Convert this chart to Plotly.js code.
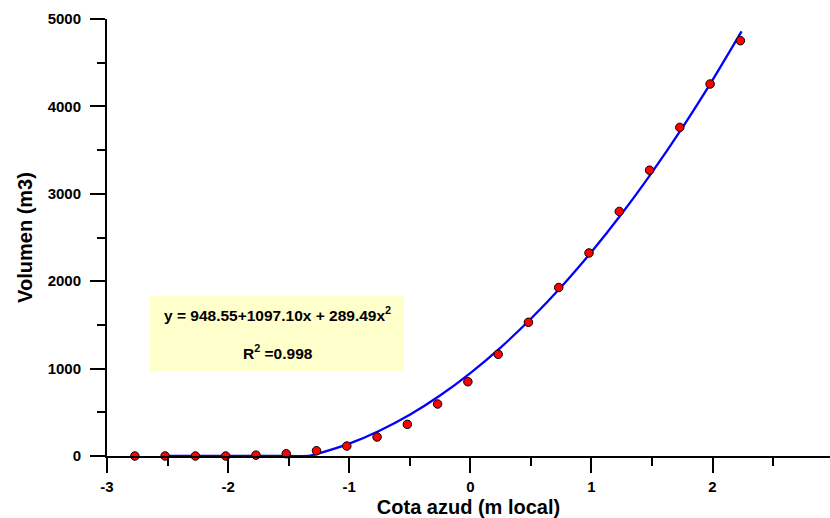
<!DOCTYPE html>
<html>
<head>
<meta charset="utf-8">
<script src="https://cdn.plot.ly/plotly-3.0.1.min.js"></script>
<style>html,body{margin:0;padding:0;background:#fff;}#chart{width:830px;height:518px;}</style>
</head>
<body>
<div id="chart"></div>
<script>
// Measured points (Cota azud, Volumen)
const cota = [-2.77, -2.52, -2.27, -2.02, -1.77, -1.52, -1.27, -1.02, -0.77, -0.52, -0.27, -0.02, 0.23, 0.48, 0.73, 0.98, 1.23, 1.48, 1.73, 1.98, 2.23];
const volumen = [0, 0, 0, 0, 10, 26, 60, 114, 217, 362, 595, 850, 1163, 1530, 1928, 2323, 2798, 3270, 3760, 4256, 4752];

// Fitted curve (y = 948.55+1097.10x+289.49x^2, floored at 0)
const curveX = [-2.5, -2.0, -1.5, -1.334, -1.25, -1.0, -0.75, -0.5, -0.25, 0, 0.25, 0.5, 0.75, 1.0, 1.25, 1.5, 1.75, 2.0, 2.24];
const curveY = [0, 0, 0, 0, 30, 141, 289, 472, 692, 949, 1241, 1570, 1934, 2335, 2772, 3246, 3755, 4301, 4858];

const xTickVals = [-3, -2, -1, 0, 1, 2];
const xTickText = ['-3', '-2', '-1', '0', '1', '2'];
const yTickVals = [0, 1000, 2000, 3000, 4000, 5000];
const yTickText = ['0', '1000', '2000', '3000', '4000', '5000'];

const eqText = '<b>y = 948.55+1097.10x + 289.49x<sup>2</sup></b>';
const r2Text = '<b>R<sup>2</sup> =0.998</b>';

const FONT = 'Arial, "Liberation Sans", sans-serif';

const traces = [
  {
    x: curveX, y: curveY, type: 'scatter', mode: 'lines',
    line: {color: '#0000FF', width: 2.3, shape: 'spline', smoothing: 0.6},
    cliponaxis: false, hoverinfo: 'skip'
  },
  {
    x: cota, y: volumen, type: 'scatter', mode: 'markers',
    marker: {color: '#FF0000', size: 8.5, line: {color: '#000000', width: 1}},
    cliponaxis: false
  }
];

const layout = {
  width: 830, height: 518,
  margin: {l: 107, r: 0, t: 19, b: 62},
  paper_bgcolor: '#ffffff', plot_bgcolor: '#ffffff',
  showlegend: false,
  font: {family: FONT, color: '#000000'},
  xaxis: {
    range: [-3, 2.97], zeroline: false, showgrid: false,
    showline: true, linecolor: '#000000', linewidth: 2,
    ticks: 'outside', ticklen: 15, tickwidth: 2, tickcolor: '#000000',
    tickmode: 'array', tickvals: xTickVals, ticktext: xTickText,
    tickfont: {family: FONT, size: 15, color: '#000000', weight: 'bold'},
    ticklabelstandoff: 1,
    minor: {dtick: 0.5, tick0: 0.5, ticks: 'outside', ticklen: 8, tickwidth: 2, tickcolor: '#000000', showgrid: false},
    title: {text: 'Cota azud (m local)', font: {family: FONT, size: 20, color: '#000000', weight: 'bold'}, standoff: 6}
  },
  yaxis: {
    range: [0, 5000], zeroline: false, showgrid: false,
    showline: true, linecolor: '#000000', linewidth: 2,
    ticks: 'outside', ticklen: 15, tickwidth: 2, tickcolor: '#000000',
    tickmode: 'array', tickvals: yTickVals, ticktext: yTickText,
    tickfont: {family: FONT, size: 15, color: '#000000', weight: 'bold'},
    ticklabelstandoff: 6,
    minor: {dtick: 500, tick0: 500, ticks: 'outside', ticklen: 8, tickwidth: 2, tickcolor: '#000000', showgrid: false},
    title: {text: 'Volumen (m3)', font: {family: FONT, size: 20, color: '#000000', weight: 'bold'}, standoff: 10}
  },
  shapes: [{
    type: 'rect', xref: 'paper', yref: 'paper',
    x0: 0.0595, x1: 0.411, y0: 0.1945, y1: 0.366,
    fillcolor: '#FFFFCC', line: {width: 0}, layer: 'below'
  }],
  annotations: [
    {xref: 'paper', yref: 'paper', x: 0.236, y: 0.324, xanchor: 'center', yanchor: 'middle',
     text: eqText, showarrow: false,
     font: {family: FONT, size: 15.5, color: '#000000'}},
    {xref: 'paper', yref: 'paper', x: 0.236, y: 0.238, xanchor: 'center', yanchor: 'middle',
     text: r2Text, showarrow: false,
     font: {family: FONT, size: 15.5, color: '#000000'}}
  ]
};

Plotly.newPlot('chart', traces, layout, {displayModeBar: false, staticPlot: true});
</script>
</body>
</html>
